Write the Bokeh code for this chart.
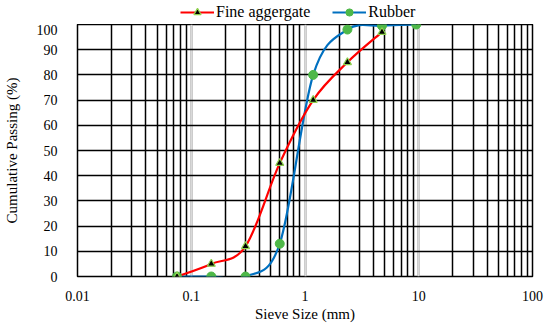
import numpy as np
from bokeh.plotting import figure
from bokeh.layouts import column
from bokeh.models import (LogTicker, SingleIntervalTicker, CustomJSTickFormatter,
                          Legend, LegendItem, ColumnDataSource, Range1d)
from bokeh.embed import file_html
from bokeh.resources import INLINE

# ---- data ----
sieve_fa = [0.075, 0.15, 0.3, 0.6, 1.18, 2.36, 4.75]
pass_fa = [0, 5, 12, 45, 70, 85, 97]
sieve_rb = [0.075, 0.15, 0.3, 0.6, 1.18, 2.36, 4.75, 9.5]
pass_rb = [0, 0, 0, 13, 80, 98, 99.5, 100]
series_names = ["Fine aggergate", "Rubber"]

FONT = "Liberation Serif"
RED = "#FF0000"
BLUE = "#0070C0"
GREEN = "#4EB848"
TRI_EDGE = "#8FD14F"

p = figure(width=550, height=308, x_axis_type="log",
           x_range=Range1d(0.01, 100), y_range=Range1d(0, 100),
           output_backend="svg", toolbar_location=None,
           min_border_left=76, min_border_right=18, min_border_top=0,
           min_border_bottom=56)
p.background_fill_color = "white"
p.border_fill_color = "white"
p.outline_line_color = "black"
p.outline_line_width = 1.5

# axes
p.xaxis.ticker = LogTicker(num_minor_ticks=10)
p.xaxis.formatter = CustomJSTickFormatter(
    code="return Number(tick.toPrecision(6)).toString();")
p.yaxis.ticker = SingleIntervalTicker(interval=10)
for ax in (p.xaxis[0], p.yaxis[0]):
    ax.axis_line_color = None
    ax.major_tick_line_color = None
    ax.minor_tick_line_color = None
    ax.major_label_text_font = FONT
    ax.major_label_text_font_size = "14px"
    ax.major_label_text_color = "black"
    ax.axis_label_text_font = FONT
    ax.axis_label_text_font_size = "15px"
    ax.axis_label_text_font_style = "normal"
    ax.axis_label_text_color = "black"
p.xaxis.axis_label = "Sieve Size (mm)"
p.yaxis.axis_label = "Cumulative Passing (%)"
p.xaxis.major_label_standoff = 8
p.xaxis.axis_label_standoff = 2
p.yaxis.major_label_standoff = 14
p.yaxis.axis_label_standoff = 14

# grids
p.xgrid.grid_line_color = "#D9D9D9"
p.xgrid.grid_line_width = 2
p.xgrid.minor_grid_line_color = "black"
p.xgrid.minor_grid_line_width = 1.5
p.ygrid.grid_line_color = "black"
p.ygrid.grid_line_width = 1.5


def smooth(xs, ys):
    lx = np.log10(np.array(xs, dtype=float))
    y = np.array(ys, dtype=float)
    n = len(lx)
    d = dict(x0=[], y0=[], x1=[], y1=[], cx0=[], cy0=[], cx1=[], cy1=[])
    for i in range(n - 1):
        im1 = max(i - 1, 0)
        ip2 = min(i + 2, n - 1)
        c0x = lx[i] + (lx[i + 1] - lx[im1]) / 6
        c0y = y[i] + (y[i + 1] - y[im1]) / 6
        c1x = lx[i + 1] - (lx[ip2] - lx[i]) / 6
        c1y = y[i + 1] - (y[ip2] - y[i]) / 6
        d["x0"].append(10 ** lx[i]); d["y0"].append(y[i])
        d["x1"].append(10 ** lx[i + 1]); d["y1"].append(y[i + 1])
        d["cx0"].append(10 ** c0x); d["cy0"].append(c0y)
        d["cx1"].append(10 ** c1x); d["cy1"].append(c1y)
    return ColumnDataSource(d)


p.bezier(x0="x0", y0="y0", x1="x1", y1="y1", cx0="cx0", cy0="cy0",
         cx1="cx1", cy1="cy1", source=smooth(sieve_rb, pass_rb),
         line_color=BLUE, line_width=2.2)
p.bezier(x0="x0", y0="y0", x1="x1", y1="y1", cx0="cx0", cy0="cy0",
         cx1="cx1", cy1="cy1", source=smooth(sieve_fa, pass_fa),
         line_color=RED, line_width=2.2)
p.scatter(sieve_rb, pass_rb, marker="circle", size=9,
          fill_color=GREEN, line_color=GREEN)
p.scatter(sieve_fa, pass_fa, marker="triangle", size=8,
          fill_color="black", line_color=TRI_EDGE, line_width=1.2)

# ---- legend strip above the plot ----
lg = figure(width=550, height=24, x_range=Range1d(0, 1), y_range=Range1d(0, 1),
            output_backend="svg", toolbar_location=None,
            min_border=0, x_axis_location=None, y_axis_location=None)
lg.outline_line_color = None
lg.grid.visible = False
lg.background_fill_color = "white"
lg.border_fill_color = "white"
fa_l = lg.line(x=[-5, -4], y=[-5, -4], line_color=RED, line_width=2.2)
fa_m = lg.scatter(x=[-5], y=[-5], marker="triangle", size=8,
                  fill_color="black", line_color=TRI_EDGE, line_width=1.2)
rb_l = lg.line(x=[-5, -4], y=[-5, -4], line_color=BLUE, line_width=2.2)
rb_m = lg.scatter(x=[-5], y=[-5], marker="circle", size=9,
                  fill_color=GREEN, line_color=GREEN)
legend = Legend(items=[
    LegendItem(label=series_names[0], renderers=[fa_l, fa_m]),
    LegendItem(label=series_names[1], renderers=[rb_l, rb_m]),
], orientation="horizontal", location=(103, 3))
legend.label_text_font = FONT
legend.label_text_font_size = "16px"
legend.label_text_color = "black"
legend.glyph_width = 34
legend.glyph_height = 18
legend.label_height = 18
legend.label_standoff = 2
legend.spacing = 22
legend.padding = 0
legend.margin = 0
legend.border_line_color = None
legend.background_fill_alpha = 0
lg.add_layout(legend, "center")

layout = column(lg, p, spacing=0)
open("out.html", "w").write(file_html(layout, INLINE))
